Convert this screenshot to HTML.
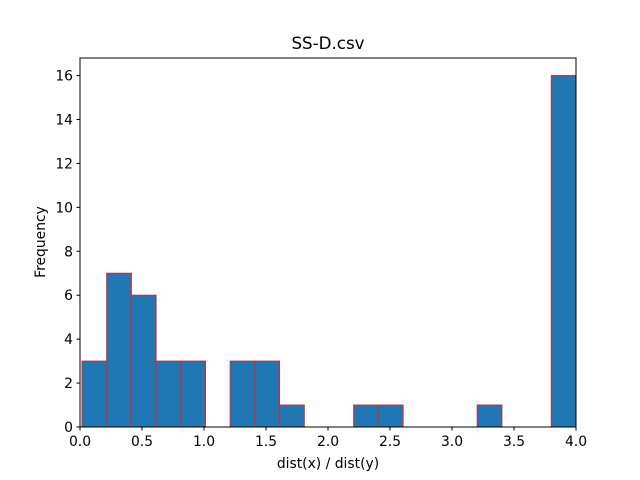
<!DOCTYPE html>
<html><head><meta charset="utf-8"><style>
body{margin:0;background:#fff;}
svg{display:block;font-family:"DejaVu Sans","Liberation Sans",sans-serif;}
</style></head><body>
<svg id="chart" width="640" height="480">
<rect width="640" height="480" fill="#fff"/>
<text x="328" y="49" text-anchor="middle" font-size="16.7">SS-D.csv</text>
<g id="bars"></g><g id="xticks"></g><g id="yticks"></g>
<rect x="80" y="58" width="496" height="369" fill="none" stroke="#000" stroke-width="1"/>
<text x="328" y="468" text-anchor="middle" font-size="13.9">dist(x) / dist(y)</text>
<text transform="translate(45,242) rotate(-90)" text-anchor="middle" font-size="13.9">Frequency</text>
</svg>
<script>
const binStarts=[0.016,0.2152,0.4144,0.6136,0.8128,1.012,1.2112,1.4104,1.6096,1.8088,2.008,2.2072,2.4064,2.6056,2.8048,3.004,3.2032,3.4024,3.6016,3.8008];
const counts=[3,7,6,3,3,0,3,3,1,0,0,1,1,0,0,0,1,0,0,16];
const binWidth=0.1992;
const xTicks=[0,0.5,1,1.5,2,2.5,3,3.5,4];
const xTickLabels=["0.0","0.5","1.0","1.5","2.0","2.5","3.0","3.5","4.0"];
const yTicks=[0,2,4,6,8,10,12,14,16];
const NS="http://www.w3.org/2000/svg";
const X=v=>80+v/4*496;
const Y=v=>427-v/16.8*369;
const bars=document.getElementById('bars');
binStarts.forEach((s,i)=>{
  const c=counts[i];
  const r=document.createElementNS(NS,'rect');
  const x0=X(s);
  r.setAttribute('x',x0);r.setAttribute('width',X(s+binWidth)-x0);
  r.setAttribute('y',Y(c));r.setAttribute('height',Y(0)-Y(c));
  r.setAttribute('fill','#1f77b4');r.setAttribute('stroke','#d62728');r.setAttribute('stroke-width','1');
  
  
  bars.appendChild(r);
});
const xt=document.getElementById('xticks');
xTicks.forEach((v,i)=>{
  const l=document.createElementNS(NS,'line');
  l.setAttribute('x1',X(v));l.setAttribute('x2',X(v));l.setAttribute('y1',427);l.setAttribute('y2',430.5);l.setAttribute('stroke','#000');
  
  
  xt.appendChild(l);
  const t=document.createElementNS(NS,'text');
  t.setAttribute('x',X(v));t.setAttribute('y',446);t.setAttribute('text-anchor','middle');t.setAttribute('font-size','13.9');
  t.textContent=xTickLabels[i];
  
  
  xt.appendChild(t);
});
const yt=document.getElementById('yticks');
yTicks.forEach(v=>{
  const l=document.createElementNS(NS,'line');
  l.setAttribute('x1',76.5);l.setAttribute('x2',80);l.setAttribute('y1',Y(v));l.setAttribute('y2',Y(v));l.setAttribute('stroke','#000');
  
  
  yt.appendChild(l);
  const t=document.createElementNS(NS,'text');
  t.setAttribute('x',73);t.setAttribute('y',Y(v)+5);t.setAttribute('text-anchor','end');t.setAttribute('font-size','13.9');
  t.textContent=String(v);
  
  
  yt.appendChild(t);
});
</script>
</body></html>
